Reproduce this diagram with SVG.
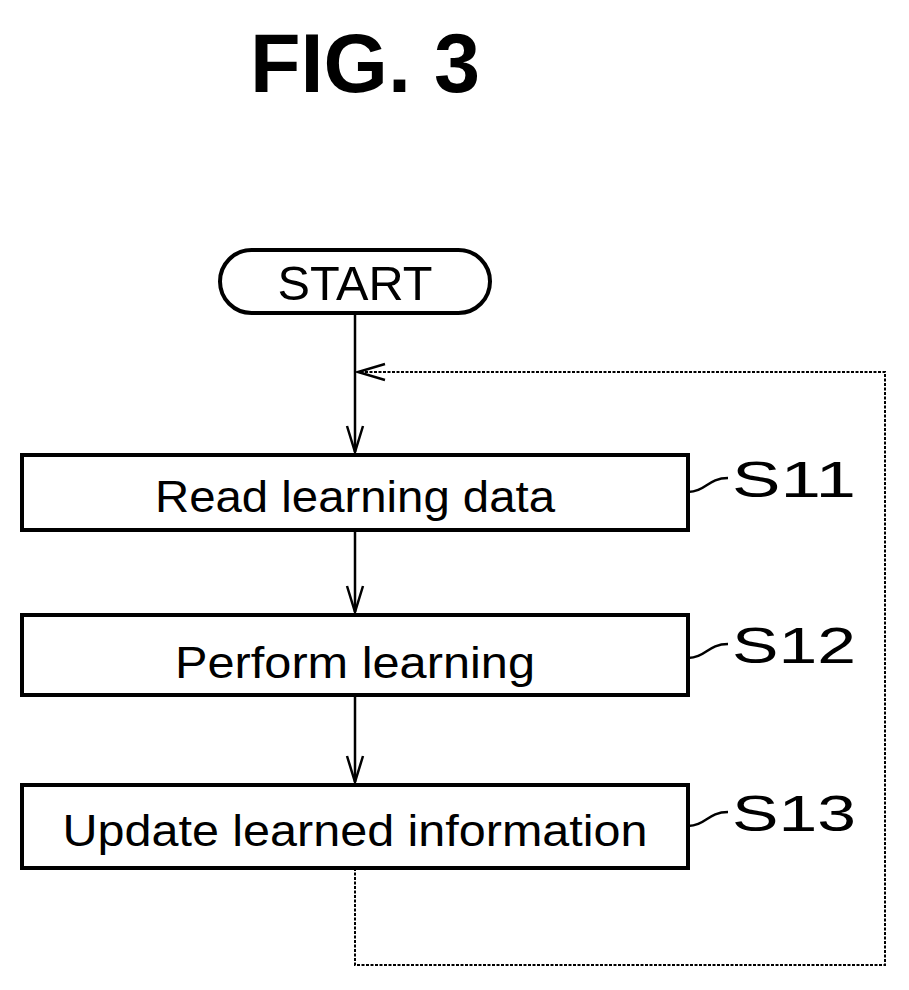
<svg xmlns="http://www.w3.org/2000/svg" width="909" height="990" viewBox="0 0 909 990">
<style>
.t{font-family:"Liberation Sans",Arial,sans-serif;fill:#000}
.box{fill:#fff;stroke:#000;stroke-width:4}
.ln{fill:none;stroke:#000;stroke-width:2.5}
.lp{fill:none;stroke:#000;stroke-width:2;stroke-dasharray:3 1.5}
</style>
<defs>
<marker id="a" markerWidth="30" markerHeight="20" refX="28" refY="10" orient="auto" markerUnits="userSpaceOnUse" viewBox="0 0 30 20">
<path d="M2,2 L28,10 L2,18" fill="none" stroke="#000" stroke-width="2.5"/>
</marker>
</defs>
<text class="t" x="365" y="92" font-size="84" font-weight="bold" text-anchor="middle" textLength="230" lengthAdjust="spacingAndGlyphs">FIG. 3</text>
<g id="connectors">
<line class="ln" x1="355" y1="313" x2="355" y2="452" marker-end="url(#a)"/>
<line class="ln" x1="355" y1="530" x2="355" y2="612" marker-end="url(#a)"/>
<line class="ln" x1="355" y1="695" x2="355" y2="782" marker-end="url(#a)"/>
<path class="lp" d="M355,868 V965 H885 V372 H360"/>
<path d="M385,364 L358,372 L385,380" fill="none" stroke="#000" stroke-width="2.5"/>
<path class="ln" d="M688,492 C705,492 708,478 728,478"/>
<path class="ln" d="M688,658 C705,658 708,644 728,644"/>
<path class="ln" d="M688,826 C705,826 708,812 728,812"/>
</g>
<g id="start">
<rect x="220" y="250" width="270" height="63" rx="31.5" class="box" stroke-width="3"/>
<text class="t" x="355" y="300" font-size="48" text-anchor="middle" textLength="155" lengthAdjust="spacingAndGlyphs">START</text>
</g>
<g id="s11">
<rect x="22" y="455" width="666" height="75" class="box"/>
<text class="t" x="355" y="512" font-size="44" text-anchor="middle" textLength="400" lengthAdjust="spacingAndGlyphs">Read learning data</text>
<text class="t" x="732" y="497" font-size="50" textLength="124" lengthAdjust="spacingAndGlyphs">S11</text>
</g>
<g id="s12">
<rect x="22" y="615" width="666" height="80" class="box"/>
<text class="t" x="355" y="678" font-size="44" text-anchor="middle" textLength="360" lengthAdjust="spacingAndGlyphs">Perform learning</text>
<text class="t" x="732" y="663" font-size="50" textLength="124" lengthAdjust="spacingAndGlyphs">S12</text>
</g>
<g id="s13">
<rect x="22" y="785" width="666" height="83" class="box"/>
<text class="t" x="355" y="846" font-size="44" text-anchor="middle" textLength="585" lengthAdjust="spacingAndGlyphs">Update learned information</text>
<text class="t" x="732" y="831" font-size="50" textLength="124" lengthAdjust="spacingAndGlyphs">S13</text>
</g>
</svg>
